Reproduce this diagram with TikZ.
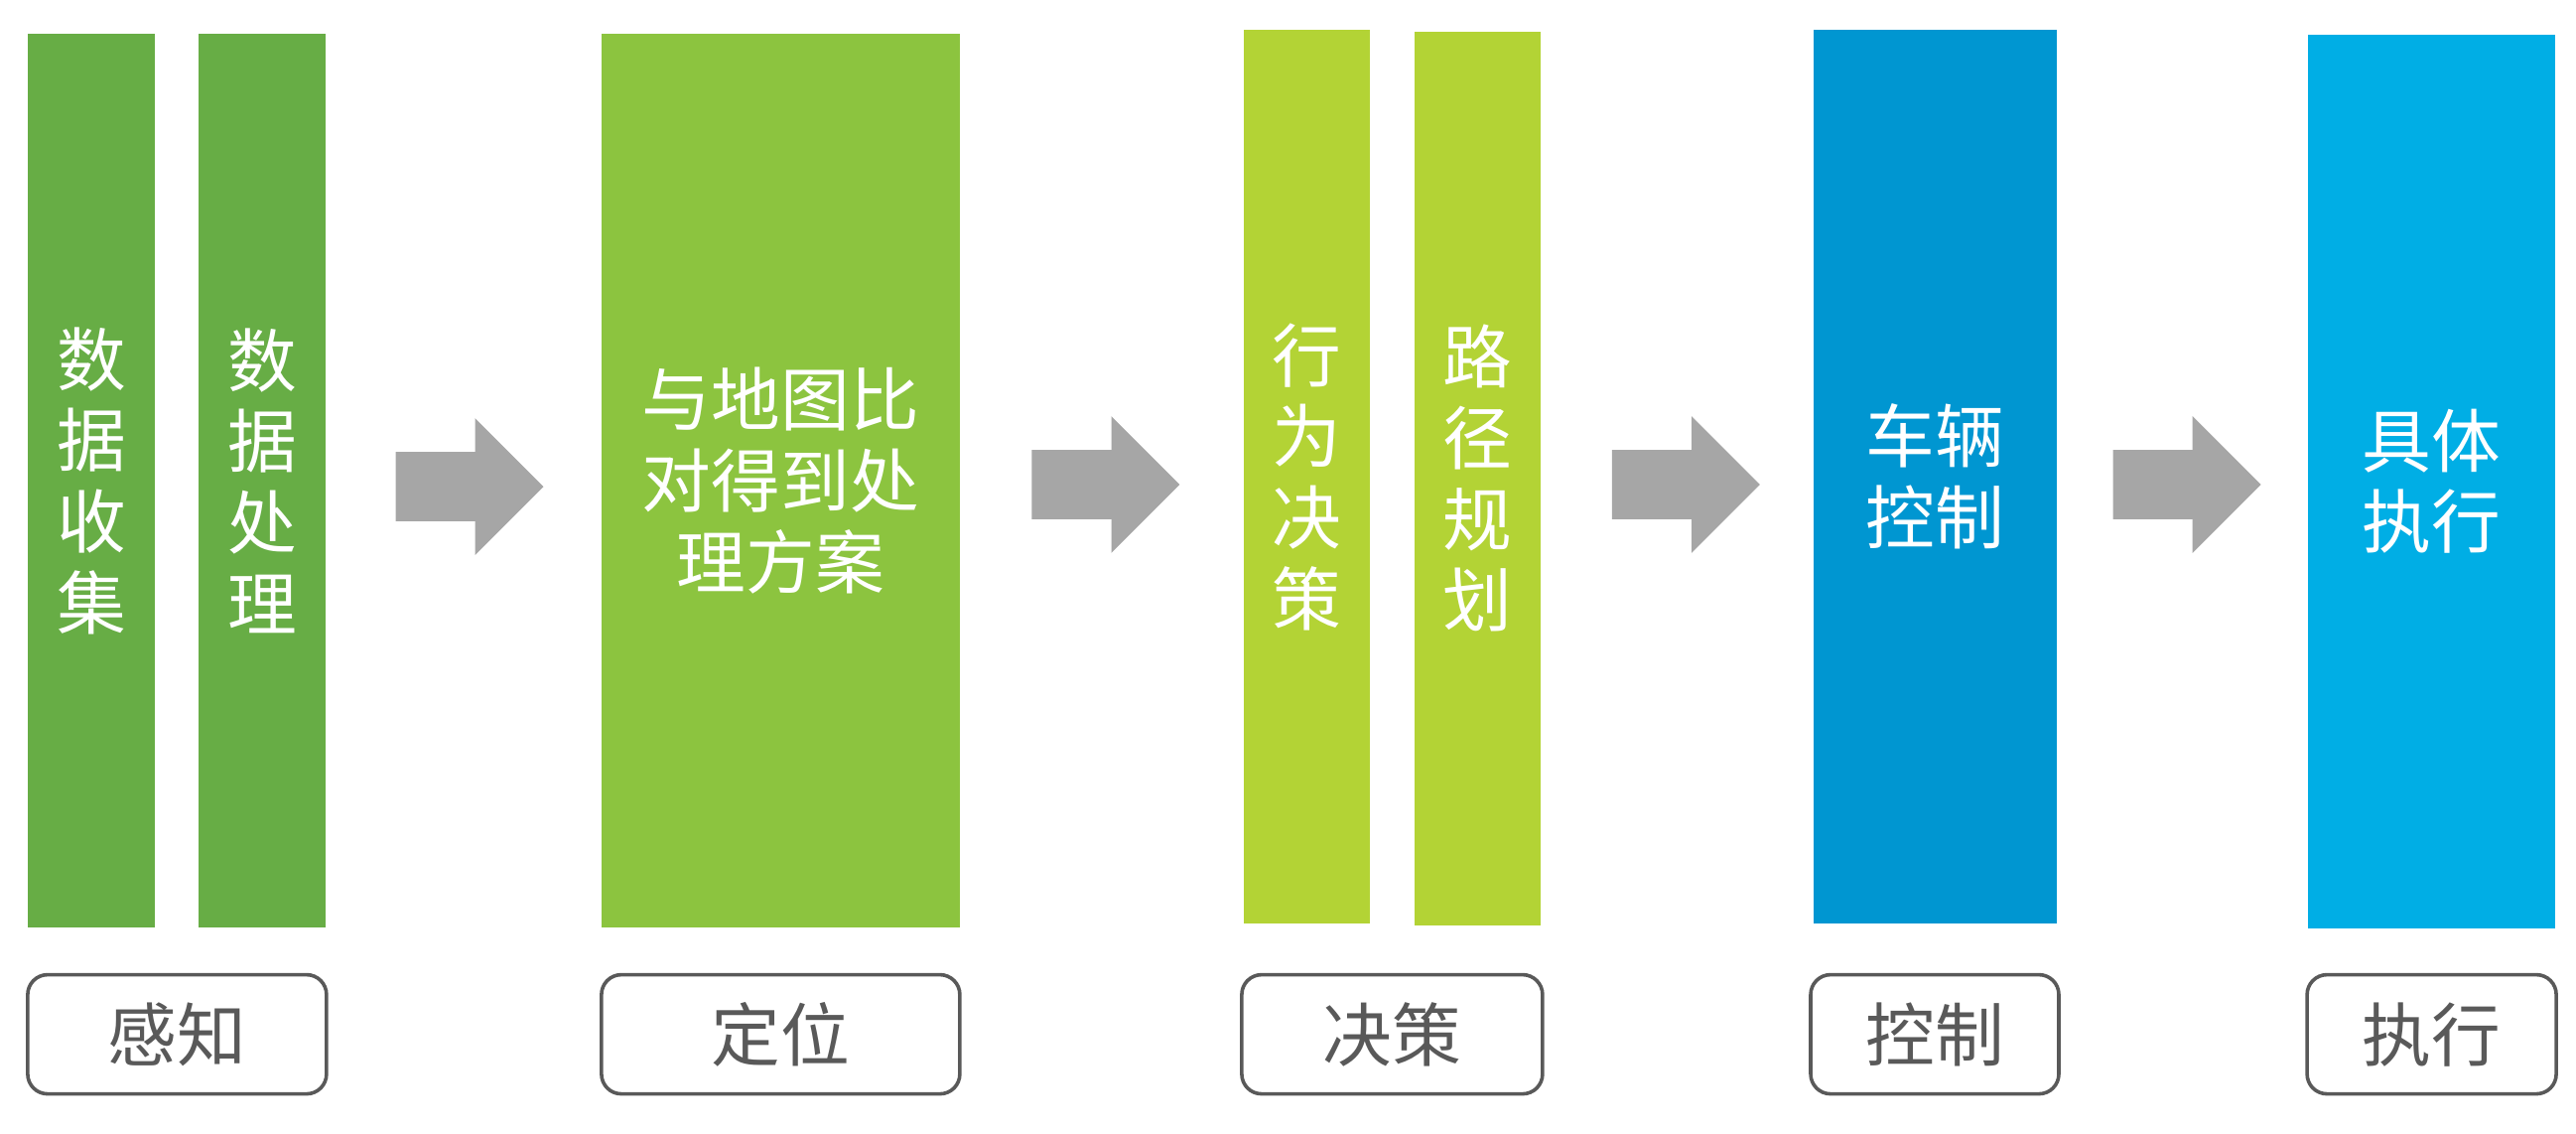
\documentclass[tikz,border=0pt]{standalone}
\usepackage{fontspec}
\setmainfont{Noto Sans CJK SC}
\usepackage{xcolor}
\usepackage{tikz}
\usetikzlibrary{shapes.arrows,positioning}

\definecolor{percgreen}{HTML}{67AD45}
\definecolor{locgreen}{HTML}{8CC43F}
\definecolor{decgreen}{HTML}{B3D335}
\definecolor{ctrlblue}{HTML}{0096D1}
\definecolor{execblue}{HTML}{00AEE5}
\definecolor{arrowgray}{HTML}{A6A6A6}
\definecolor{labelgray}{HTML}{595959}

\begin{document}
\begin{tikzpicture}[
	bar/.style={rectangle, minimum height=225bp, inner sep=0pt, outer sep=0pt, text=white, align=center, font=\fontsize{17.5}{20.5}\selectfont},
	stage/.style={rectangle, rounded corners=5bp, draw=labelgray, line width=0.9pt, minimum height=30bp, inner sep=0pt, text=labelgray, font=\fontsize{17.5}{20.5}\selectfont},
	flow/.style={single arrow, fill=arrowgray, draw=none, inner sep=8.5bp, outer sep=0pt, minimum height=37.25bp, single arrow head extend=8.5bp}]
	\useasboundingbox (0bp,0bp) rectangle (648.75bp,-285.5bp);

	\node (collect) at (23bp,-121bp)     [bar, fill=percgreen, minimum width=32bp]    {数\\据\\收\\集};
	\node (process) at (66bp,-121bp)     [bar, fill=percgreen, minimum width=32bp]    {数\\据\\处\\理};
	\node (match)   at (196.6bp,-121bp)  [bar, fill=locgreen, minimum width=90.25bp]  {与地图比\\对得到处\\理方案};
	\node (behave)  at (329.1bp,-120bp)  [bar, fill=decgreen, minimum width=31.75bp]  {行\\为\\决\\策};
	\node (route)   at (372.1bp,-120.4bp)[bar, fill=decgreen, minimum width=31.75bp]  {路\\径\\规\\划};
	\node (vehicle) at (487.4bp,-120bp)  [bar, fill=ctrlblue, minimum width=61.25bp]  {车辆\\控制};
	\node (act)     at (612.4bp,-121.2bp)[bar, fill=execblue, minimum width=62.25bp]  {具体\\执行};

	\node (perc) at (44.6bp,-260.4bp)   [stage, minimum width=75.25bp] {感知};
	\node (loc)  at (196.6bp,-260.4bp)  [stage, minimum width=90.25bp] {定位};
	\node (dec)  at (350.6bp,-260.4bp)  [stage, minimum width=75.75bp] {决策};
	\node (ctrl) at (487.25bp,-260.4bp) [stage, minimum width=62.5bp]  {控制};
	\node (exec) at (612.4bp,-260.4bp)  [stage, minimum width=62.75bp] {执行};

	\node (a1) at (113.9bp,-122.5bp)  [flow] {};
	\node (a2) at (274.1bp,-122bp)    [flow] {};
	\node (a3) at (420.25bp,-122bp)   [flow] {};
	\node (a4) at (546.4bp,-122bp)    [flow] {};
\end{tikzpicture}
\end{document}
